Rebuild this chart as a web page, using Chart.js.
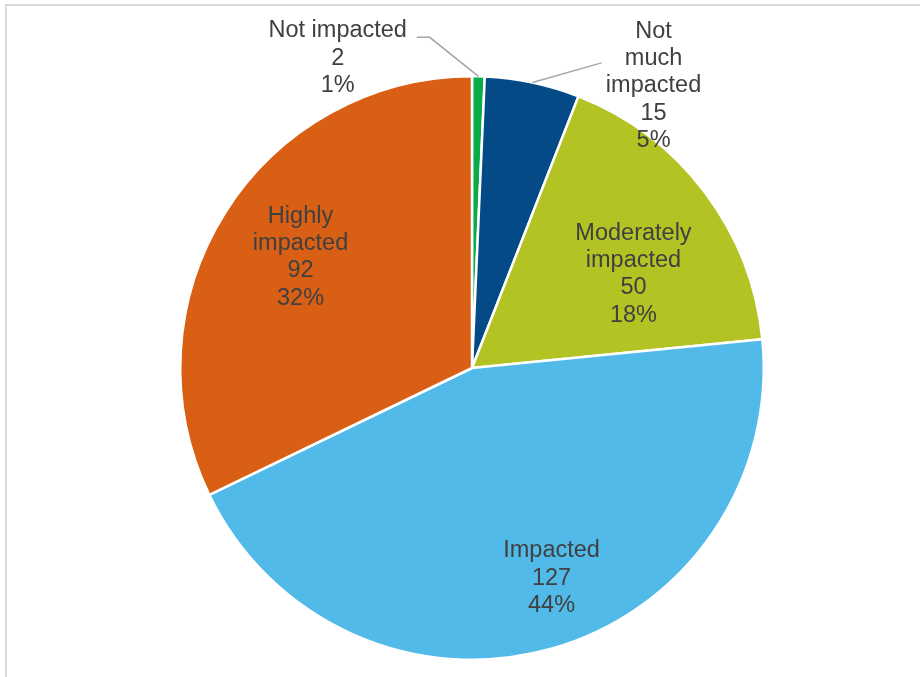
<!DOCTYPE html>
<html>
<head>
<meta charset="utf-8">
<script src="https://cdn.jsdelivr.net/npm/chart.js@4/dist/chart.umd.min.js"></script>
<style>
  html, body { margin: 0; padding: 0; background: #fff; overflow: hidden; }
  #wrap { position: relative; width: 920px; height: 677px; }
  #frame { position: absolute; left: 5px; top: 4px; width: 1000px; height: 1000px;
           border: 2px solid #d9d9d9; box-sizing: border-box; }
  canvas { position: absolute; left: 0; top: 0; }
</style>
</head>
<body>
<div id="wrap">
  <div id="frame"></div>
  <canvas id="pie" width="920" height="677"></canvas>
</div>
<script>
// categories, clockwise from 12 o'clock
var categories = ['Not impacted', 'Not much impacted', 'Moderately impacted', 'Impacted', 'Highly impacted'];
var counts = [2, 15, 50, 127, 92];
var pctLabels = ['1%', '5%', '18%', '44%', '32%'];
var colors = ['#0bab4b', '#034a87', '#b2c323', '#52bae8', '#d95f14'];

// how each label is broken into lines
var labelLines = [
  ['Not impacted'],
  ['Not', 'much', 'impacted'],
  ['Moderately', 'impacted'],
  ['Impacted'],
  ['Highly', 'impacted']
];

// label placement: angle shift from slice middle (deg), distance as share of radius,
// optional leader line (points relative to label centre)
var labelPlace = [
  { da: -24.7, r: 1.157, leader: [[92, -21], [79, -21]] },
  { da: 20.8, r: 1.15, leader: [[-52, -23]] },
  { da: 7.0, r: 0.64 },
  { da: -5.0, r: 0.77 },
  { da: 0.8, r: 0.70 }
];

var pieLabels = {
  id: 'pieLabels',
  afterDatasetsDraw: function(chart) {
    var ctx = chart.ctx;
    var meta = chart.getDatasetMeta(0);
    ctx.save();
    ctx.font = '23.5px "Liberation Sans", Arial, sans-serif';
    ctx.fillStyle = '#404040';
    ctx.textAlign = 'center';
    ctx.textBaseline = 'middle';
    meta.data.forEach(function(arc, i) {
      var p = arc.getProps(['x', 'y', 'startAngle', 'endAngle', 'outerRadius'], true);
      var place = labelPlace[i];
      var mid = (p.startAngle + p.endAngle) / 2;
      var a = mid + place.da * Math.PI / 180;
      var cx = p.x + Math.cos(a) * p.outerRadius * place.r;
      var cy = p.y + Math.sin(a) * p.outerRadius * place.r;

      if (place.leader) {
        ctx.beginPath();
        ctx.strokeStyle = '#a6a6a6';
        ctx.lineWidth = 1.5;
        ctx.moveTo(p.x + Math.cos(mid) * p.outerRadius, p.y + Math.sin(mid) * p.outerRadius);
        place.leader.forEach(function(pt) { ctx.lineTo(cx + pt[0], cy + pt[1]); });
        ctx.stroke();
      }

      var lines = labelLines[i].concat([String(counts[i]), pctLabels[i]]);
      var lh = 27.3;
      var top = cy - (lines.length - 1) * lh / 2;
      lines.forEach(function(t, k) {
        ctx.fillText(t, cx, top + k * lh);
      });
    });
    ctx.restore();
  }
};

new Chart(document.getElementById('pie'), {
  type: 'pie',
  data: {
    labels: categories,
    datasets: [{
      data: counts,
      backgroundColor: colors,
      borderColor: '#ffffff',
      borderWidth: 2.5
    }]
  },
  options: {
    responsive: false,
    animation: false,
    layout: { padding: { left: 179, right: 155, top: 75, bottom: 16 } },
    plugins: {
      legend: { display: false },
      tooltip: { enabled: false }
    }
  },
  plugins: [pieLabels]
});
</script>
</body>
</html>
